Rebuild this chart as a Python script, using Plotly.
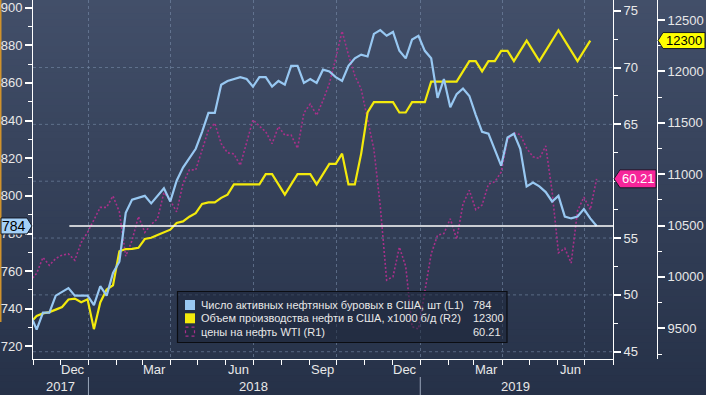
import pandas as pd
import plotly.graph_objects as go

# ---------------- data (weekly) ----------------
week_start = "2017-10-29"

rigs = [737, 729, 738, 738, 747, 749, 751, 747, 747, 747,
        742, 752, 747, 759, 765, 791, 798, 799, 800, 796,
        800, 804, 797, 808, 815, 820, 825, 834, 844, 844,
        859, 861, 862, 863, 862, 858, 863, 863, 858, 861,
        859, 869, 869, 860, 862, 860, 867, 866, 863, 861,
        869, 873, 875, 874, 886, 888, 885, 887, 877, 873,
        883, 885, 877, 873, 852, 862, 847, 854, 857, 853,
        843, 834, 833, 824, 816, 831, 833, 825, 805, 807,
        805, 802, 797, 800, 789, 788, 789, 793, 788, 784]

production = [9553, 9620, 9645, 9658, 9682, 9707, 9780, 9789, 9754, 9782,
              9492, 9752, 9878, 9919, 10250, 10271, 10273, 10283, 10369, 10381,
              10407, 10433, 10460, 10525, 10540, 10586, 10620, 10710, 10725, 10725,
              10769, 10800, 10900, 10900, 10900, 10900, 10900, 11000, 11000, 10900,
              10800, 10900, 11000, 11000, 11000, 10900, 11000, 11100, 11100, 11200,
              10900, 10900, 11200, 11600, 11700, 11700, 11700, 11700, 11600, 11600,
              11700, 11700, 11700, 11900, 11900, 11900, 11900, 11900, 12000, 12100,
              12100, 12000, 12100, 12100, 12200, 12200, 12100, 12200, 12300, 12200,
              12100, 12200, 12300, 12400, 12300, 12200, 12100, 12200, 12300]

wti = [51.2, 51.9, 53.3, 52.6, 53.2, 53.5, 53.6, 53.05, 54.6, 55.5,
       56.6, 57.7, 57.7, 58.7, 57.3, 53.4, 54.8, 56.9, 55.5, 56.2,
       56.7, 59.0, 58.3, 57.3, 59.8, 61.0, 61.0, 62.7, 64.5, 65.1,
       63.3, 62.5, 62.4, 61.4, 63.3, 65.4, 64.85, 64.35, 63.3, 64.8,
       64.05, 64.05, 62.9, 66.0, 66.8, 65.8, 67.1, 68.6, 70.8, 73.2,
       71.1, 69.3, 68.1, 65.5, 62.8, 57.8, 51.3, 51.6, 54.2, 52.5,
       47.2, 47.0, 50.4, 53.6, 55.25, 55.4, 56.7, 54.9, 58.0, 59.2,
       57.5, 57.9, 59.75, 59.95, 60.8, 63.6, 64.25, 64.1, 62.9, 62.15,
       62.0, 63.1, 59.1, 53.7, 54.1, 52.8, 57.4, 58.6, 57.5, 60.21]

series_names = ["Число активных нефтяных буровых в США, шт (L1)",
                "Объем производства нефти в США, x1000 б/д (R2)",
                "цены на нефть WTI (R1)"]

month_labels = ["Dec", "Mar", "Jun", "Sep", "Dec", "Mar", "Jun"]
month_label_dates = ["2017-12-15", "2018-03-15", "2018-06-15", "2018-09-15",
                     "2018-12-15", "2019-03-15", "2019-06-15"]
year_labels = ["2017", "2018", "2019"]
year_label_dates = ["2017-12-01", "2018-07-02", "2019-04-16"]
year_breaks = ["2018-01-01", "2019-01-01"]
quarter_starts = ["2018-01-01", "2018-04-01", "2018-07-01", "2018-10-01",
                  "2019-01-01", "2019-04-01", "2019-07-01"]
r1_tick_labels = [45, 50, 55, 65, 70, 75]      # 60 sits under the value tag
grid_levels_r1 = [45, 50, 55, 60, 65, 70]

dates = pd.date_range(week_start, periods=len(rigs), freq="7D")
prod_dates = dates[:len(production)]

# ---------------- style ----------------
W, H = 706, 395
BLUE = "#98c8f2"
YELLOW = "#f3ea0c"
PINK = "#a8308a"
LABEL_PINK = "#f7259a"
GRID = "rgba(125,145,175,0.55)"
TXT = "#e8e8e8"
FONT = "Liberation Sans"

def px(x):
    return x / W

def py(y):
    return 1 - y / H

# axis ranges (plot area: x 33..613, y 0..359)
L_RANGE = [713.36, 903.98]
R1_RANGE = [44.36, 75.94]
R2_RANGE = [9201.3, 12694.6]
Y_DOMAIN = [1 - 359 / H, 1]

def vpaper(v, rng):
    return Y_DOMAIN[0] + (v - rng[0]) / (rng[1] - rng[0]) * (Y_DOMAIN[1] - Y_DOMAIN[0])

fig = go.Figure()

fig.add_trace(go.Scatter(x=dates, y=wti, yaxis="y", mode="lines",
                         line=dict(color=PINK, width=1.6, dash="2px,2px"),
                         name=series_names[2], showlegend=False))
fig.add_trace(go.Scatter(x=prod_dates, y=production, yaxis="y2", mode="lines",
                         line=dict(color=YELLOW, width=2.2),
                         name=series_names[1], showlegend=False))
fig.add_trace(go.Scatter(x=dates, y=rigs, yaxis="y3", mode="lines",
                         line=dict(color=BLUE, width=2.2),
                         name=series_names[0], showlegend=False))

tickfont = dict(family=FONT, size=13, color=TXT)
common_y = dict(showgrid=False, zeroline=False, showline=True, linecolor="white",
                linewidth=1, ticks="outside", ticklen=7, tickwidth=2,
                tickcolor="white", tickfont=tickfont, fixedrange=True,
                automargin=False)

shapes = []
# background gradient
top = (66, 79, 105)
bot = (38, 49, 72)
N = 60
for k in range(N):
    t = k / (N - 1)
    c = tuple(round(top[j] + (bot[j] - top[j]) * t) for j in range(3))
    shapes.append(dict(type="rect", xref="paper", yref="paper",
                       x0=0, x1=1, y0=1 - (k + 1) / N - 0.002, y1=1 - k / N,
                       fillcolor="rgb(%d,%d,%d)" % c, line=dict(width=0),
                       layer="below"))
# orange edge bar
shapes.append(dict(type="rect", xref="paper", yref="paper", x0=0, x1=px(1.5),
                   y0=py(322), y1=1, fillcolor="#cf922c", line=dict(width=0),
                   layer="below"))
# horizontal gridlines (R1)
for g in grid_levels_r1:
    shapes.append(dict(type="line", xref="x domain", yref="y", x0=0, x1=1,
                       y0=g, y1=g, line=dict(color=GRID, width=1, dash="dot"),
                       layer="below"))
# last-value reference line
shapes.append(dict(type="line", xref="x", yref="y3", x0="2017-12-11",
                   x1="2019-08-01", y0=rigs[-1], y1=rigs[-1],
                   line=dict(color="white", width=1.5), layer="above"))
# year separators
for d in year_breaks:
    shapes.append(dict(type="line", xref="x", yref="paper", x0=d, x1=d,
                       y0=0, y1=py(377), line=dict(color="#9aa6ba", width=1)))

# value tags on axes (paper coordinates)
def tag(xl, xr, xtip, yc, hh_px, fill, tip_left):
    y0, y1 = yc - hh_px / H, yc + hh_px / H
    if tip_left:
        path = (f"M {px(xtip)},{yc} L {px(xl)},{y1} L {px(xr)},{y1} "
                f"L {px(xr)},{y0} L {px(xl)},{y0} Z")
    else:
        path = (f"M {px(xl)},{y0} L {px(xr)},{y0} L {px(xtip)},{yc} "
                f"L {px(xr)},{y1} L {px(xl)},{y1} Z")
    return dict(type="path", xref="paper", yref="paper", path=path,
                fillcolor=fill, line=dict(color="#151a26", width=1),
                layer="above")

y_rig = vpaper(rigs[-1], L_RANGE)
y_wti = vpaper(wti[-1], R1_RANGE)
y_prod = vpaper(production[-1], R2_RANGE)
shapes.append(tag(1, 27, 32, y_rig, 8, "#a4d0f7", False))
shapes.append(tag(620, 656, 614, y_wti, 9, LABEL_PINK, True))
shapes.append(tag(663, 705, 658, y_prod, 8, "#ffff00", True))

# legend box and swatches
shapes.append(dict(type="rect", xref="paper", yref="paper", x0=px(177.5), x1=px(507),
                   y0=py(342.5), y1=py(291.5), fillcolor="rgba(30,38,58,0.55)",
                   line=dict(color="#0b0d12", width=1.2), layer="above"))
row_y = [305, 318.3, 331.7]
shapes.append(dict(type="rect", xref="paper", yref="paper", x0=px(185), x1=px(195),
                   y0=py(row_y[0] + 5), y1=py(row_y[0] - 5), fillcolor=BLUE,
                   line=dict(width=0), layer="above"))
shapes.append(dict(type="rect", xref="paper", yref="paper", x0=px(185), x1=px(195),
                   y0=py(row_y[1] + 5), y1=py(row_y[1] - 5), fillcolor=YELLOW,
                   line=dict(width=0), layer="above"))
shapes.append(dict(type="rect", xref="paper", yref="paper", x0=px(185.5), x1=px(194.5),
                   y0=py(row_y[2] + 4.5), y1=py(row_y[2] - 4.5),
                   fillcolor="rgba(0,0,0,0)",
                   line=dict(color=PINK, width=1.2, dash="dot"), layer="above"))

annotations = []
# tag texts
annotations.append(dict(xref="paper", yref="paper", x=px(14), y=y_rig,
                        xanchor="center", yanchor="middle",
                        text=str(rigs[-1]), showarrow=False,
                        font=dict(family=FONT, size=14, color="#000000")))
annotations.append(dict(xref="paper", yref="paper", x=px(638), y=y_wti,
                        xanchor="center", yanchor="middle",
                        text=f"{wti[-1]:.2f}", showarrow=False,
                        font=dict(family=FONT, size=13, color="#ffffff")))
annotations.append(dict(xref="paper", yref="paper", x=px(684), y=y_prod,
                        xanchor="center", yanchor="middle",
                        text=str(production[-1]), showarrow=False,
                        font=dict(family=FONT, size=13, color="#000000")))
# legend texts
values = [str(rigs[-1]), str(production[-1]), f"{wti[-1]:.2f}"]
for name, val, ry in zip(series_names, values, row_y):
    annotations.append(dict(xref="paper", yref="paper", x=px(199), y=py(ry),
                            xanchor="left", yanchor="middle", text=name,
                            showarrow=False,
                            font=dict(family=FONT, size=11, color=TXT)))
    annotations.append(dict(xref="paper", yref="paper", x=px(471), y=py(ry),
                            xanchor="left", yanchor="middle", text=val,
                            showarrow=False,
                            font=dict(family=FONT, size=11, color=TXT)))
# x-axis month and year labels
for lab, d in zip(month_labels, month_label_dates):
    annotations.append(dict(xref="x", yref="paper", x=d, y=py(369),
                            xanchor="center", yanchor="middle", text=lab,
                            showarrow=False,
                            font=dict(family=FONT, size=13, color=TXT)))
for lab, d in zip(year_labels, year_label_dates):
    annotations.append(dict(xref="x", yref="paper", x=d, y=py(386),
                            xanchor="center", yanchor="middle", text=lab,
                            showarrow=False,
                            font=dict(family=FONT, size=13, color=TXT)))

fig.update_layout(
    width=W, height=H,
    margin=dict(l=0, r=0, t=0, b=0, autoexpand=False),
    paper_bgcolor="#2e3a54",
    plot_bgcolor="rgba(0,0,0,0)",
    showlegend=False,
    xaxis=dict(type="date", domain=[px(33), px(613)],
               range=["2017-11-01", "2019-08-01"], anchor="y",
               tickmode="array", tickvals=quarter_starts, showticklabels=False,
               ticks="outside", ticklen=5, tickwidth=1, tickcolor="white",
               showgrid=True, gridcolor=GRID, griddash="dot", gridwidth=1,
               minor=dict(dtick="M1", tick0="2017-11-01", ticks="outside",
                          ticklen=5, tickwidth=1, tickcolor="white", showgrid=False),
               showline=True, linecolor="white", linewidth=1, zeroline=False,
               fixedrange=True, automargin=False),
    yaxis=dict(domain=Y_DOMAIN, range=R1_RANGE, side="right", anchor="x",
               tickmode="array", tickvals=r1_tick_labels,
               minor=dict(dtick=2.5, tick0=45, ticks="outside", ticklen=4,
                          tickwidth=1, tickcolor="white", showgrid=False),
               **common_y),
    yaxis2=dict(overlaying="y", anchor="free", position=px(657), side="right",
                range=R2_RANGE, tick0=9500, dtick=500, tickformat="d",
                minor=dict(dtick=250, tick0=9500, ticks="outside", ticklen=4,
                           tickwidth=1, tickcolor="white", showgrid=False),
                **common_y),
    yaxis3=dict(overlaying="y", anchor="x", side="left", range=L_RANGE,
                tick0=720, dtick=20, tickformat="d",
                minor=dict(dtick=10, tick0=720, ticks="outside", ticklen=4,
                           tickwidth=1, tickcolor="white", showgrid=False),
                **common_y),
    shapes=shapes,
    annotations=annotations,
)

fig.write_html(
    "out.html",
    config={"displayModeBar": False, "staticPlot": True},
    post_script="document.body.style.margin='0';document.body.style.padding='0';"
                "document.body.style.overflow='hidden';"
                "document.body.style.background='#2e3a54';",
)
